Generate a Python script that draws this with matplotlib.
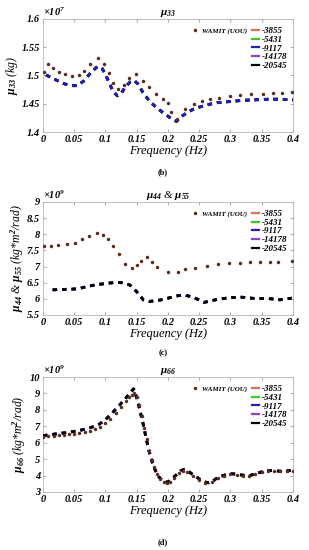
import matplotlib
matplotlib.use('Agg')
import matplotlib.pyplot as plt
from matplotlib.lines import Line2D

plt.rcParams['font.family'] = ['Liberation Serif', 'DejaVu Serif']
plt.rcParams['font.weight'] = 'bold'
plt.rcParams['font.style'] = 'italic'
plt.rcParams['mathtext.fontset'] = 'custom'
plt.rcParams['mathtext.rm'] = 'Liberation Serif:bold:italic'
plt.rcParams['mathtext.it'] = 'Liberation Serif:bold:italic'
plt.rcParams['mathtext.bf'] = 'Liberation Serif:bold:italic'

# series names and colours
series = ['-3855', '-5431', '-9117', '-14178', '-20545']
colors = ['#e8704a', '#33cc33', '#2020c0', '#8a44d0', '#000000']
dot_color = '#5a2e1e'

x_ticks = [0, 0.05, 0.1, 0.15, 0.2, 0.25, 0.3, 0.35, 0.4]
x_ticklabels = ['0', '0.05', '0.1', '0.15', '0.2', '0.25', '0.3', '0.35', '0.4']

# ---- mu33 (x 1e7 kg) ----
f33_dots = [0.002, 0.008, 0.0155, 0.025, 0.035, 0.047, 0.058, 0.066, 0.075, 0.088,
            0.098, 0.105, 0.1115, 0.1205, 0.129, 0.138, 0.149, 0.1605, 0.1695, 0.181,
            0.1915, 0.2, 0.205, 0.214, 0.228, 0.241, 0.255, 0.267, 0.2815, 0.299,
            0.315, 0.333, 0.3515, 0.368, 0.383, 0.398]
mu33_dots = [1.506, 1.520, 1.514, 1.507, 1.502, 1.499, 1.500, 1.508, 1.520, 1.531,
             1.520, 1.504, 1.487, 1.476, 1.484, 1.496, 1.502, 1.491, 1.480, 1.467,
             1.458, 1.452, 1.436, 1.423, 1.440, 1.450, 1.455, 1.459, 1.461, 1.464,
             1.466, 1.467, 1.467, 1.469, 1.469, 1.470]
f33_line = [0.005, 0.015, 0.025, 0.035, 0.045, 0.055, 0.065, 0.075, 0.085, 0.09,
            0.095, 0.105, 0.112, 0.119, 0.125, 0.132, 0.14, 0.146, 0.152, 0.16,
            0.17, 0.18, 0.19, 0.2, 0.207, 0.214, 0.22, 0.23, 0.24, 0.25,
            0.26, 0.27, 0.28, 0.29, 0.3, 0.32, 0.34, 0.36, 0.38, 0.4]
mu33_line = [1.501, 1.495, 1.490, 1.485, 1.482, 1.482, 1.490, 1.503, 1.514, 1.516,
             1.512, 1.490, 1.472, 1.464, 1.468, 1.480, 1.489, 1.491, 1.485, 1.470,
             1.455, 1.445, 1.436, 1.428, 1.422, 1.419, 1.426, 1.434, 1.440, 1.444,
             1.447, 1.450, 1.452, 1.453, 1.454, 1.456, 1.457, 1.458, 1.458, 1.457]

# ---- mu44 & mu55 (x 1e9) ----
f44_dots = [0.002, 0.0128, 0.0245, 0.038, 0.0507, 0.063, 0.074, 0.086, 0.0965, 0.1045,
            0.1115, 0.1216, 0.132, 0.143, 0.15, 0.157, 0.167, 0.174, 0.183, 0.1995,
            0.2155, 0.228, 0.243, 0.262, 0.2805, 0.2975, 0.3147, 0.332, 0.348, 0.363,
            0.3765, 0.399]
mu44_dots = [7.63, 7.64, 7.67, 7.70, 7.74, 7.84, 7.96, 8.03, 7.99, 7.85,
             7.63, 7.38, 7.08, 6.96, 7.04, 7.18, 7.29, 7.15, 7.00, 6.82,
             6.84, 6.91, 6.96, 7.01, 7.09, 7.10, 7.11, 7.13, 7.14, 7.15,
             7.15, 7.16]
f44_line = [0.0155, 0.03, 0.0485, 0.06, 0.075, 0.09, 0.107, 0.118, 0.126, 0.139,
            0.15, 0.1605, 0.171, 0.187, 0.2, 0.214, 0.226, 0.2405, 0.258, 0.2805,
            0.302, 0.318, 0.339, 0.3605, 0.379, 0.398]
mu44_line = [6.28, 6.29, 6.30, 6.33, 6.40, 6.45, 6.49, 6.51, 6.50, 6.43,
             6.22, 5.97, 5.92, 5.96, 6.02, 6.09, 6.12, 6.05, 5.89, 5.99,
             6.04, 6.05, 6.01, 6.01, 5.97, 6.02]

# ---- mu66 (x 1e9) ----
f66_dots = [0, 0.008, 0.017, 0.025, 0.033, 0.042, 0.05, 0.058, 0.067, 0.075,
            0.083, 0.092, 0.1, 0.108, 0.117, 0.125, 0.133, 0.138, 0.142, 0.146,
            0.15, 0.154, 0.158, 0.162, 0.166, 0.17, 0.174, 0.178, 0.183, 0.188,
            0.193, 0.198, 0.204, 0.21, 0.217, 0.224, 0.231, 0.24, 0.25, 0.26,
            0.27, 0.28, 0.29, 0.3, 0.31, 0.32, 0.33, 0.34, 0.35, 0.36,
            0.37, 0.38, 0.39, 0.4]
mu66_dots = [6.35, 6.38, 6.42, 6.45, 6.48, 6.52, 6.55, 6.60, 6.66, 6.74,
             6.84, 6.98, 7.20, 7.45, 7.80, 8.15, 8.55, 8.78, 8.92, 9.00,
             8.80, 8.30, 7.60, 6.90, 6.20, 5.50, 4.95, 4.50, 4.10, 3.80,
             3.60, 3.52, 3.60, 3.85, 4.15, 4.30, 4.20, 3.95, 3.70, 3.55,
             3.62, 3.85, 4.00, 4.08, 4.05, 3.98, 4.00, 4.12, 4.20, 4.25,
             4.25, 4.25, 4.28, 4.30]
f66_line = [0, 0.01, 0.02, 0.03, 0.04, 0.05, 0.06, 0.07, 0.08, 0.09,
            0.1, 0.11, 0.12, 0.13, 0.14, 0.145, 0.15, 0.155, 0.16, 0.165,
            0.17, 0.175, 0.18, 0.185, 0.19, 0.195, 0.2, 0.21, 0.22, 0.226,
            0.232, 0.24, 0.25, 0.26, 0.265, 0.27, 0.28, 0.29, 0.3, 0.31,
            0.32, 0.33, 0.34, 0.35, 0.36, 0.37, 0.38, 0.39, 0.4]
mu66_line = [6.43, 6.48, 6.53, 6.58, 6.63, 6.69, 6.76, 6.85, 6.97, 7.13,
             7.40, 7.78, 8.18, 8.60, 9.05, 9.28, 8.75, 8.00, 7.20, 6.30,
             5.45, 4.80, 4.30, 3.95, 3.72, 3.62, 3.60, 3.92, 4.28, 4.38,
             4.28, 4.05, 3.80, 3.60, 3.56, 3.60, 3.90, 4.02, 4.12, 4.08,
             4.02, 3.98, 4.12, 4.22, 4.30, 4.30, 4.26, 4.28, 4.32]

panels = [
    dict(fd=f33_dots, vd=mu33_dots, fl=f33_line, vl=mu33_line, ylim=(1.4, 1.6),
         yticks=[1.4, 1.45, 1.5, 1.55, 1.6], yticklabels=['1.4', '1.45', '1.5', '1.55', '1.6'],
         title=r'$\mu_{33}$', ylabel=r'$\mu_{33}$ (kg)', exp=r'$\times10^{7}$',
         caption='(b)', top='-9117', rect=[0.139, 0.7600, 0.809, 0.2055], cap_y=0.687),
    dict(fd=f44_dots, vd=mu44_dots, fl=f44_line, vl=mu44_line, ylim=(5.5, 9),
         yticks=[5.5, 6, 6.5, 7, 7.5, 8, 8.5, 9],
         yticklabels=['5.5', '6', '6.5', '7', '7.5', '8', '8.5', '9'],
         title=r'$\mu_{44}$ & $\mu_{55}$', ylabel=r'$\mu_{44}$ & $\mu_{55}$ (kg*m$^{2}$/rad)',
         exp=r'$\times10^{9}$', caption='(c)', top='-20545',
         rect=[0.139, 0.4273, 0.809, 0.2055], cap_y=0.358),
    dict(fd=f66_dots, vd=mu66_dots, fl=f66_line, vl=mu66_line, ylim=(3, 10),
         yticks=[3, 4, 5, 6, 7, 8, 9, 10],
         yticklabels=['3', '4', '5', '6', '7', '8', '9', '10'],
         title=r'$\mu_{66}$', ylabel=r'$\mu_{66}$ (kg*m$^{2}$/rad)',
         exp=r'$\times10^{9}$', caption='(d)', top='-20545',
         rect=[0.139, 0.1055, 0.809, 0.2090], cap_y=0.014),
]

fig = plt.figure(figsize=(3.09, 5.5), dpi=100)

for p in panels:
    ax = fig.add_axes(p['rect'])
    handles = []
    for name, c in zip(series, colors):
        z = 5 if name == p['top'] else 3
        h, = ax.plot(p['fl'], p['vl'], color=c, lw=2.0, linestyle=(0, (1.6, 1.8)),
                     label=name, zorder=z)
        handles.append(h)
    hd, = ax.plot(p['fd'], p['vd'], linestyle='none', marker='o', ms=2.5, mew=0,
                  color=dot_color, label='WAMIT (UOU)', zorder=6)

    ax.set_xlim(0, 0.4)
    ax.set_ylim(*p['ylim'])
    ax.set_xticks(x_ticks)
    ax.set_xticklabels(x_ticklabels)
    ax.set_yticks(p['yticks'])
    ax.set_yticklabels(p['yticklabels'])
    ax.tick_params(direction='in', top=True, right=True, labelsize=7.5,
                   length=2.5, width=0.6, color='#999999', pad=2)
    for s in ax.spines.values():
        s.set_color('#b5b5b5')
        s.set_linewidth(0.6)

    ax.set_xlabel('Frequency (Hz)', fontsize=9, labelpad=1)
    ax.set_ylabel(p['ylabel'], fontsize=8.5, labelpad=1)
    ax.set_title(p['title'], fontsize=8, pad=3)
    ax.text(0.0, 1.01, p['exp'], transform=ax.transAxes, fontsize=7.5,
            ha='left', va='bottom')
    fig.text(0.528, p['cap_y'], p['caption'], fontsize=6, style='normal',
             weight='bold', ha='center', va='center')

    blank = Line2D([], [], linestyle='none', alpha=0)
    leg_handles = [hd, blank, blank, blank, blank] + handles
    leg_labels = ['WAMIT (UOU)', '', '', '', ''] + series
    leg = ax.legend(leg_handles, leg_labels, ncol=2, loc='upper right',
                    bbox_to_anchor=(1.0, 0.98), frameon=False, fontsize=6.5,
                    handlelength=0.8, handletextpad=0.3, columnspacing=0.6,
                    labelspacing=0.05, borderaxespad=0.2, numpoints=1)
    leg.get_texts()[0].set_fontsize(5)
    for lh in leg.get_lines()[5:]:
        lh.set_linestyle('-')
        lh.set_linewidth(1.6)

fig.savefig('out.png', dpi=100)
